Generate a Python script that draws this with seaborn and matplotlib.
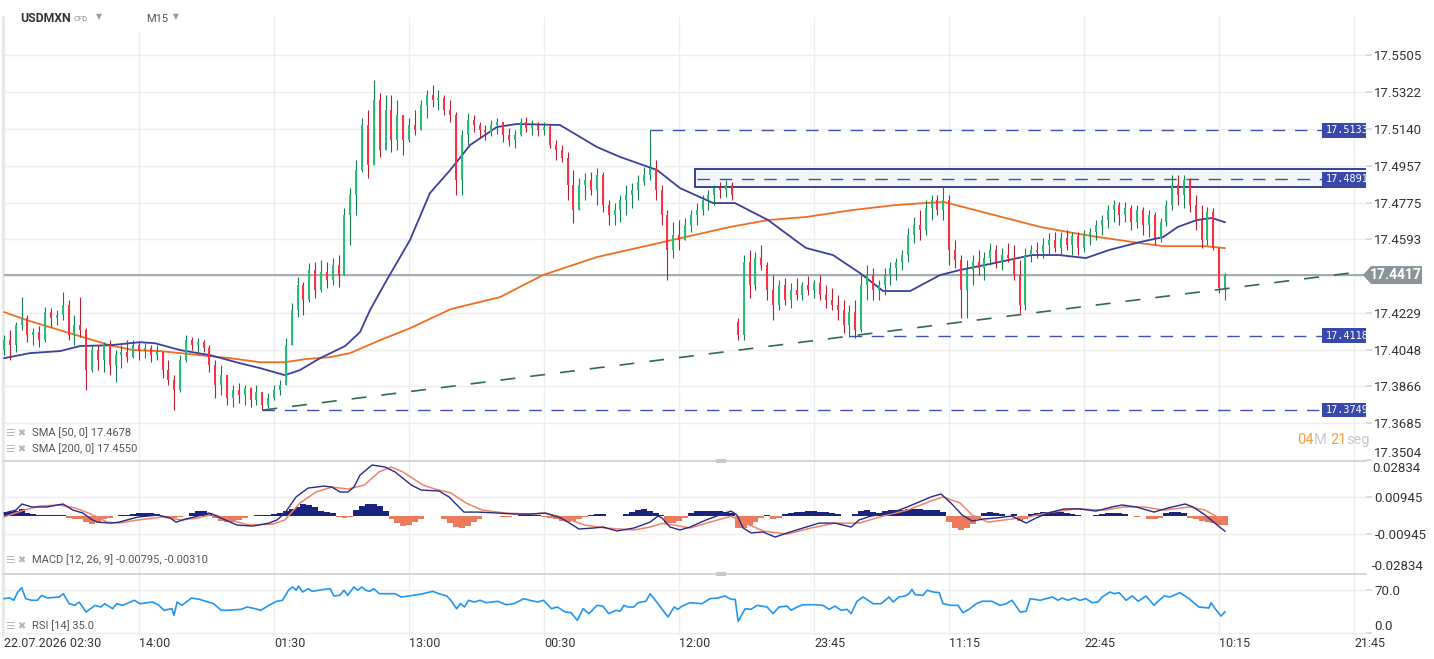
import matplotlib
matplotlib.use("Agg")
import numpy as np
import matplotlib.pyplot as plt
import seaborn as sns
from matplotlib.patches import Rectangle, Polygon
from matplotlib.transforms import IdentityTransform

# --- values (x = bar index, one candle every 2 bars) ---
time_labels = ["22.07.2026 02:30", "14:00", "01:30", "13:00", "00:30", "12:00",
               "23:45", "11:15", "22:45", "10:15", "21:45"]
label_bars = [0, 46, 92, 138, 184, 230, 276, 322, 368, 414, 460]

price_ticks = [17.3504, 17.3685, 17.3866, 17.4048, 17.4229, 17.4411, 17.4593,
               17.4775, 17.4957, 17.5140, 17.5322, 17.5505]

closes = [
    17.4095, 17.4070, 17.4169, 17.4204, 17.4120, 17.4135, 17.4095, 17.4234, 17.4204, 17.4219,
    17.4268, 17.4120, 17.4169, 17.4145, 17.3947, 17.4046, 17.3996, 17.4070, 17.3971, 17.4021,
    17.4036, 17.4011, 17.4070, 17.4046, 17.4056, 17.4021, 17.4036, 17.3947, 17.3898, 17.3848,
    17.3996, 17.4095, 17.4070, 17.4085, 17.4056, 17.3971, 17.3873, 17.3922, 17.3809, 17.3848,
    17.3823, 17.3858, 17.3799, 17.3838, 17.3774, 17.3809, 17.3848, 17.3873, 17.4070, 17.4244,
    17.4367, 17.4293, 17.4442, 17.4343, 17.4432, 17.4392, 17.4466, 17.4417, 17.4713, 17.4812,
    17.4936, 17.5159, 17.4961, 17.5282, 17.5035, 17.5233, 17.5085, 17.5208, 17.5085, 17.5159,
    17.5134, 17.5258, 17.5307, 17.5282, 17.5292, 17.5233, 17.5208, 17.4887, 17.5110, 17.5184,
    17.5159, 17.5134, 17.5124, 17.5159, 17.5174, 17.5110, 17.5085, 17.5110, 17.5174, 17.5144,
    17.5159, 17.5134, 17.5149, 17.5060, 17.5035, 17.4996, 17.4862, 17.4738, 17.4862, 17.4887,
    17.4837, 17.4911, 17.4763, 17.4713, 17.4738, 17.4788, 17.4812, 17.4837, 17.4877, 17.4911,
    17.4946, 17.4837, 17.4713, 17.4541, 17.4614, 17.4590, 17.4664, 17.4713, 17.4738, 17.4788,
    17.4812, 17.4847, 17.4837, 17.4862, 17.4812, 17.4120, 17.4481, 17.4367, 17.4501, 17.4466,
    17.4343, 17.4268, 17.4367, 17.4293, 17.4343, 17.4318, 17.4367, 17.4343, 17.4377, 17.4318,
    17.4293, 17.4268, 17.4244, 17.4169, 17.4234, 17.4145, 17.4367, 17.4417, 17.4343, 17.4367,
    17.4417, 17.4452, 17.4481, 17.4516, 17.4614, 17.4664, 17.4639, 17.4748, 17.4788, 17.4738,
    17.4788, 17.4541, 17.4491, 17.4343, 17.4442, 17.4481, 17.4452, 17.4501, 17.4541, 17.4481,
    17.4516, 17.4501, 17.4417, 17.4268, 17.4516, 17.4541, 17.4531, 17.4565, 17.4590, 17.4551,
    17.4600, 17.4565, 17.4610, 17.4551, 17.4614, 17.4629, 17.4664, 17.4689, 17.4738, 17.4763,
    17.4713, 17.4748, 17.4679, 17.4738, 17.4664, 17.4713, 17.4600, 17.4679, 17.4763, 17.4862,
    17.4812, 17.4887, 17.4763, 17.4689, 17.4590, 17.4728, 17.4551, 17.4353, 17.4417]

highs = [
    17.4120, 17.4145, 17.4184, 17.4308, 17.4219, 17.4154, 17.4164, 17.4258, 17.4253, 17.4244,
    17.4333, 17.4293, 17.4219, 17.4308, 17.4154, 17.4070, 17.4070, 17.4085, 17.4095, 17.4046,
    17.4070, 17.4095, 17.4095, 17.4085, 17.4080, 17.4070, 17.4070, 17.4036, 17.3996, 17.3922,
    17.4021, 17.4120, 17.4110, 17.4105, 17.4095, 17.4070, 17.3996, 17.3971, 17.3898, 17.3873,
    17.3883, 17.3873, 17.3863, 17.3873, 17.3823, 17.3833, 17.3873, 17.3898, 17.4105, 17.4278,
    17.4407, 17.4382, 17.4477, 17.4481, 17.4491, 17.4481, 17.4501, 17.4516, 17.4748, 17.4847,
    17.4986, 17.5194, 17.5233, 17.5381, 17.5317, 17.5307, 17.5307, 17.5282, 17.5208, 17.5194,
    17.5233, 17.5282, 17.5332, 17.5357, 17.5332, 17.5307, 17.5282, 17.5223, 17.5134, 17.5218,
    17.5208, 17.5174, 17.5159, 17.5184, 17.5194, 17.5174, 17.5144, 17.5134, 17.5194, 17.5199,
    17.5184, 17.5174, 17.5174, 17.5164, 17.5085, 17.5060, 17.5025, 17.4936, 17.4897, 17.4922,
    17.4926, 17.4946, 17.4926, 17.4788, 17.4773, 17.4812, 17.4862, 17.4872, 17.4911, 17.4951,
    17.5134, 17.4986, 17.4862, 17.4738, 17.4679, 17.4689, 17.4699, 17.4738, 17.4773, 17.4812,
    17.4837, 17.4862, 17.4877, 17.4887, 17.4877, 17.4204, 17.4516, 17.4541, 17.4531, 17.4565,
    17.4481, 17.4417, 17.4392, 17.4402, 17.4377, 17.4402, 17.4382, 17.4412, 17.4392, 17.4417,
    17.4367, 17.4353, 17.4318, 17.4293, 17.4268, 17.4293, 17.4417, 17.4466, 17.4452, 17.4392,
    17.4452, 17.4481, 17.4501, 17.4541, 17.4649, 17.4704, 17.4738, 17.4788, 17.4812, 17.4812,
    17.4857, 17.4812, 17.4590, 17.4516, 17.4491, 17.4516, 17.4541, 17.4531, 17.4575, 17.4565,
    17.4551, 17.4575, 17.4565, 17.4491, 17.4551, 17.4565, 17.4580, 17.4600, 17.4624, 17.4629,
    17.4629, 17.4639, 17.4629, 17.4629, 17.4639, 17.4649, 17.4689, 17.4713, 17.4763, 17.4788,
    17.4778, 17.4778, 17.4763, 17.4763, 17.4753, 17.4738, 17.4728, 17.4699, 17.4788, 17.4911,
    17.4911, 17.4911, 17.4897, 17.4812, 17.4763, 17.4753, 17.4748, 17.4551, 17.4427]

lows = [
    17.4021, 17.3996, 17.4036, 17.4145, 17.4085, 17.4070, 17.4060, 17.4085, 17.4159, 17.4169,
    17.4194, 17.4095, 17.4070, 17.4110, 17.3848, 17.3937, 17.3947, 17.3937, 17.3922, 17.3888,
    17.3956, 17.3986, 17.4006, 17.3996, 17.4006, 17.3986, 17.3996, 17.3908, 17.3873, 17.3749,
    17.3838, 17.3986, 17.4046, 17.4036, 17.4036, 17.3937, 17.3809, 17.3823, 17.3774, 17.3764,
    17.3784, 17.3774, 17.3764, 17.3774, 17.3749, 17.3759, 17.3799, 17.3823, 17.3873, 17.4085,
    17.4209, 17.4219, 17.4283, 17.4303, 17.4333, 17.4353, 17.4367, 17.4358, 17.4442, 17.4565,
    17.4713, 17.4926, 17.4897, 17.4961, 17.5001, 17.5035, 17.5025, 17.5035, 17.5010, 17.5075,
    17.5110, 17.5159, 17.5194, 17.5248, 17.5233, 17.5208, 17.5174, 17.4812, 17.4812, 17.5060,
    17.5124, 17.5095, 17.5085, 17.5105, 17.5115, 17.5075, 17.5055, 17.5045, 17.5105, 17.5124,
    17.5110, 17.5105, 17.5110, 17.5045, 17.4986, 17.4976, 17.4788, 17.4674, 17.4738, 17.4788,
    17.4812, 17.4763, 17.4728, 17.4664, 17.4664, 17.4679, 17.4713, 17.4748, 17.4788, 17.4862,
    17.4887, 17.4788, 17.4664, 17.4392, 17.4501, 17.4541, 17.4590, 17.4629, 17.4664, 17.4713,
    17.4738, 17.4763, 17.4798, 17.4803, 17.4788, 17.4095, 17.4095, 17.4303, 17.4343, 17.4442,
    17.4293, 17.4194, 17.4244, 17.4268, 17.4253, 17.4293, 17.4293, 17.4318, 17.4303, 17.4293,
    17.4253, 17.4244, 17.4194, 17.4130, 17.4110, 17.4105, 17.4135, 17.4293, 17.4293, 17.4293,
    17.4318, 17.4367, 17.4392, 17.4442, 17.4481, 17.4575, 17.4590, 17.4614, 17.4689, 17.4713,
    17.4689, 17.4466, 17.4452, 17.4204, 17.4204, 17.4367, 17.4417, 17.4392, 17.4466, 17.4452,
    17.4442, 17.4481, 17.4392, 17.4229, 17.4244, 17.4481, 17.4501, 17.4501, 17.4516, 17.4531,
    17.4516, 17.4541, 17.4516, 17.4516, 17.4531, 17.4565, 17.4590, 17.4614, 17.4649, 17.4679,
    17.4664, 17.4679, 17.4639, 17.4649, 17.4614, 17.4605, 17.4565, 17.4580, 17.4659, 17.4738,
    17.4763, 17.4748, 17.4728, 17.4639, 17.4551, 17.4565, 17.4541, 17.4328, 17.4293]

# opens follow the previous close, except where the session opened with a gap
gap_opens = {0: 17.4046, 125: 17.4184}

sma50_t = [0, 8.9, 19.1, 25.9, 36.1, 46.3, 51.4, 60.0, 70.2, 80.4, 87.2, 95.7, 100.8, 107.7,
           116.2, 121.3, 124.7, 129.8, 138.3, 145.1, 152.0, 158.8, 167.9, 174.8, 189.4, 202.0,
           209.9, 222.5, 230.3, 241.6, 249.0, 260.3, 269.5, 273.2, 282.4, 291.6, 299.5, 308.7,
           318.9, 325.7, 337.3, 350.2, 359.4, 368.6, 376.5, 387.0, 394.9, 399.9, 406.4, 411.5, 416]
sma50 = [17.4006, 17.4031, 17.4041, 17.4066, 17.4070, 17.4085, 17.4080, 17.4046, 17.4021, 17.3981,
         17.3957, 17.3922, 17.3947, 17.4006, 17.4066, 17.4135, 17.4244, 17.4377, 17.4590, 17.4822,
         17.4936, 17.5060, 17.5149, 17.5164, 17.5159, 17.5050, 17.5001, 17.4936, 17.4847, 17.4773,
         17.4773, 17.4689, 17.4590, 17.4551, 17.4516, 17.4427, 17.4338, 17.4338, 17.4417, 17.4442,
         17.4476, 17.4516, 17.4516, 17.4501, 17.4541, 17.4580, 17.4605, 17.4655, 17.4689, 17.4699,
         17.4678]

sma200_t = [0, 7.8, 15.7, 26.9, 36.1, 44.0, 53.1, 66.8, 77.0, 87.2, 95.7, 102.5, 111.1, 117.9,
            128.1, 138.3, 152.3, 169.0, 183.6, 202.0, 224.5, 247.4, 260.3, 273.2, 288.9, 303.6,
            313.8, 320.3, 334.6, 353.0, 368.6, 387.0, 394.9, 409.2, 416]
sma200 = [17.4234, 17.4194, 17.4159, 17.4110, 17.4070, 17.4046, 17.4041, 17.4021, 17.4006, 17.3986,
          17.3986, 17.4001, 17.4011, 17.4031, 17.4095, 17.4154, 17.4249, 17.4308, 17.4417, 17.4506,
          17.4580, 17.4655, 17.4689, 17.4704, 17.4738, 17.4763, 17.4773, 17.4778, 17.4724, 17.4655,
          17.4614, 17.4575, 17.4560, 17.4560, 17.4550]

# horizontal levels: value, bar where the line starts
level_values = [17.5133, 17.4891, 17.4118, 17.3749]
level_starts = [220, 236, 288, 88]
zone_low, zone_high, zone_start = 17.4852, 17.4941, 235.4
last_price = 17.4417
trend_t = [88, 458.6]
trend_p = [17.3749, 17.4427]

hist = [
    0.0017, 0.0017, 0.0025, 0.0034, 0.0015, 0.0010, 0.0005, 0.0003, 0.0003, 0.0003,
    0.0003, -0.0010, -0.0015, -0.0018, -0.0030, -0.0041, -0.0030, -0.0015, -0.0010, -0.0003,
    0.0003, 0.0005, 0.0010, 0.0014, 0.0014, 0.0013, 0.0008, -0.0005, -0.0008, -0.0010,
    -0.0008, -0.0003, 0.0015, 0.0025, 0.0025, 0.0015, -0.0010, -0.0025, -0.0034, -0.0030,
    -0.0020, -0.0010, -0.0003, 0.0004, 0.0004, 0.0005, 0.0010, 0.0015, 0.0025, 0.0036,
    0.0046, 0.0059, 0.0056, 0.0046, 0.0025, 0.0020, 0.0015, -0.0008, -0.0013, -0.0005,
    0.0030, 0.0051, 0.0059, 0.0059, 0.0051, 0.0025, -0.0015, -0.0036, -0.0051, -0.0046,
    -0.0030, -0.0015, -0.0003, 0.0000, -0.0003, -0.0015, -0.0036, -0.0056, -0.0065, -0.0051,
    -0.0030, -0.0015, -0.0003, -0.0002, 0.0000, -0.0005, -0.0005, -0.0003, 0.0005, 0.0005,
    0.0005, 0.0003, -0.0005, -0.0010, -0.0015, -0.0025, -0.0030, -0.0025, -0.0015, -0.0008,
    0.0003, 0.0010, 0.0010, -0.0003, -0.0003, -0.0003, 0.0010, 0.0020, 0.0030, 0.0034,
    0.0025, 0.0015, 0.0005, -0.0039, -0.0036, -0.0025, -0.0010, 0.0015, 0.0023, 0.0025,
    0.0025, 0.0025, 0.0025, 0.0020, 0.0015, -0.0065, -0.0061, -0.0046, -0.0030, -0.0010,
    0.0003, -0.0015, -0.0010, 0.0008, 0.0013, 0.0018, 0.0020, 0.0022, 0.0022, 0.0020,
    0.0018, 0.0013, 0.0008, -0.0004, -0.0003, 0.0010, 0.0025, 0.0030, 0.0020, 0.0015,
    0.0025, 0.0029, 0.0029, 0.0030, 0.0033, 0.0036, 0.0033, 0.0030, 0.0029, 0.0028,
    0.0020, -0.0030, -0.0061, -0.0073, -0.0061, -0.0041, -0.0015, 0.0013, 0.0017, 0.0015,
    0.0008, -0.0002, 0.0009, -0.0025, -0.0015, 0.0008, 0.0013, 0.0018, 0.0020, 0.0020,
    0.0018, 0.0013, 0.0008, 0.0002, 0.0000, -0.0002, 0.0003, 0.0010, 0.0014, 0.0014,
    0.0014, 0.0010, -0.0003, -0.0005, -0.0003, -0.0015, -0.0017, -0.0010, 0.0015, 0.0020,
    0.0020, 0.0015, -0.0010, -0.0015, -0.0025, -0.0030, -0.0036, -0.0046, -0.0049]

macd_t = [0, 4.1, 6.1, 9.5, 14.7, 20.1, 23.5, 26.9, 29.6, 31.7, 36.5, 39.2, 45.7, 52.5, 56.6,
          58.6, 62.0, 66.1, 69.8, 73.9, 79.4, 84.8, 90.3, 93.0, 95.7, 99.5, 103.6, 109.0, 111.7,
          114.5, 117.2, 119.2, 121.3, 125.4, 129.8, 133.2, 138.7, 142.1, 148.2, 151.6, 156.7,
          161.5, 168.3, 173.8, 179.2, 184.3, 189.8, 195.9, 200.7, 204.1, 208.8, 214.6, 220.1,
          222.8, 224.2, 226.9, 230.3, 233.7, 239.2, 244.6, 247.7, 249.7, 251.8, 254.5, 258.6,
          262.7, 266.8, 272.2, 277.7, 283.1, 288.6, 291.3, 295.4, 302.2, 307.7, 311.7, 315.8,
          319.2, 322.6, 326.4, 329.8, 333.9, 338.0, 343.4, 348.2, 351.6, 355.7, 361.1, 366.6,
          372.0, 377.5, 380.9, 385.7, 391.8, 396.6, 402.4, 405.1, 409.2, 413.3, 416.0]
macd_val = [0.0013, 0.0028, 0.0059, 0.0044, 0.0044, 0.0059, 0.0028, 0.0013, -0.0017, -0.0033,
            -0.0038, -0.0033, -0.0007, 0.0003, -0.0012, -0.0033, -0.0017, -0.0002, 0.0013, -0.0012,
            -0.0048, -0.0053, -0.0038, -0.0022, 0.0013, 0.0095, 0.0140, 0.0150, 0.0145, 0.0120,
            0.0120, 0.0145, 0.0206, 0.0257, 0.0247, 0.0222, 0.0156, 0.0130, 0.0125, 0.0095,
            0.0018, 0.0018, 0.0013, 0.0008, 0.0008, 0.0013, -0.0012, -0.0068, -0.0063, -0.0058,
            -0.0078, -0.0063, -0.0033, -0.0002, -0.0012, -0.0058, -0.0073, -0.0058, -0.0022, 0.0008,
            0.0023, 0.0003, -0.0063, -0.0088, -0.0083, -0.0109, -0.0088, -0.0063, -0.0038, -0.0038,
            -0.0058, -0.0022, -0.0002, 0.0013, 0.0044, 0.0069, 0.0095, 0.0110, 0.0064, 0.0003,
            -0.0027, -0.0017, -0.0012, -0.0002, -0.0038, -0.0012, 0.0013, 0.0034, 0.0034, 0.0023,
            0.0044, 0.0054, 0.0044, 0.0018, 0.0039, 0.0059, 0.0044, 0.0003, -0.0048, -0.00795]

signal_t = [0, 6.8, 12.3, 18.7, 24.2, 29.6, 35.1, 39.2, 45.7, 53.8, 60.6, 66.1, 71.2, 76.7, 83.5,
            91.6, 95.7, 100.8, 106.3, 111.7, 117.2, 122.7, 127.8, 131.9, 135.9, 142.8, 146.8,
            152.3, 157.4, 162.9, 171.0, 179.2, 184.3, 191.1, 197.9, 204.8, 214.6, 220.1, 224.2,
            228.3, 233.7, 240.5, 247.7, 251.8, 258.6, 266.8, 274.9, 283.1, 291.3, 299.5, 307.7,
            315.8, 319.9, 325.7, 329.8, 335.2, 343.4, 348.9, 357.1, 365.2, 374.8, 381.6, 388.4,
            395.2, 403.7, 409.2, 414.6, 416.0]
signal_val = [-0.0007, 0.0028, 0.0049, 0.0054, 0.0039, 0.0008, -0.0033, -0.0038, -0.0022, -0.0007,
              -0.0022, -0.0012, 0.0008, -0.0022, -0.0048, -0.0043, -0.0022, 0.0064, 0.0120, 0.0145,
              0.0135, 0.0155, 0.0222, 0.0247, 0.0222, 0.0155, 0.0135, 0.0115, 0.0064, 0.0028,
              0.0013, 0.0008, 0.0013, -0.0012, -0.0048, -0.0063, -0.0073, -0.0058, -0.0040, -0.0048,
              -0.0063, -0.0033, -0.0003, -0.0033, -0.0078, -0.0094, -0.0063, -0.0038, -0.0038, -0.0002,
              0.0028, 0.0074, 0.0095, 0.0064, 0.0003, -0.0033, -0.0017, -0.0007, 0.0018, 0.0034,
              0.0028, 0.0044, 0.0044, 0.0028, 0.0044, 0.0028, -0.0018, -0.0031]

rsi_t = [0.0, 2.0, 3.3, 4.7, 6.0, 7.4, 9.4, 11.4, 12.8, 14.8, 18.8, 20.2, 22.2, 24.2, 25.6, 28.0,
         31.0, 33.0, 34.3, 37.0, 38.4, 40.4, 44.4, 46.4, 50.5, 52.5, 54.5, 57.2, 57.9, 59.0, 60.6,
         63.9, 66.6, 68.7, 71.4, 74.0, 76.1, 80.8, 82.8, 85.5, 87.5, 90.2, 92.9, 94.9, 96.9, 98.3,
         99.6, 100.3, 101.7, 103.7, 105.0, 109.1, 111.1, 112.4, 114.4, 115.8, 117.1, 119.2, 120.5,
         121.9, 123.2, 124.6, 125.9, 127.9, 133.3, 135.3, 138.0, 140.7, 142.7, 146.1, 148.1, 150.8,
         152.2, 154.2, 155.5, 156.9, 158.2, 160.2, 162.2, 164.3, 168.3, 171.0, 173.7, 177.1, 179.1,
         181.8, 183.8, 186.5, 188.5, 191.2, 193.2, 195.3, 197.3, 199.3, 202.0, 204.0, 206.0,
         208.5, 209.9, 211.2, 212.6, 214.6, 216.0, 218.7, 220.1, 222.8, 226.2, 228.3, 229.6, 231.0,
         233.7, 237.8, 240.5, 243.3, 245.6, 247.7, 249.1, 250.1, 252.5, 254.5, 256.5, 260.0, 262.0,
         264.0, 266.8, 268.1, 270.2, 272.2, 276.3, 279.0, 281.1, 283.1, 285.2, 287.2, 288.6, 290.6,
         292.7, 296.1, 298.8, 301.5, 302.9, 304.9, 307.0, 308.3, 309.3, 310.4, 313.1, 314.5, 316.5,
         318.6, 319.9, 322.6, 325.0, 326.7, 329.1, 331.2, 333.2, 336.6, 339.3, 341.4, 343.4, 346.2,
         348.2, 349.6, 353.0, 357.1, 359.1, 360.5, 362.5, 364.5, 366.6, 368.6, 370.7, 372.7, 374.1,
         376.8, 378.2, 379.9, 382.3, 384.3, 386.4, 389.1, 391.8, 393.2, 395.2, 397.2, 400.6, 403.7,
         407.1, 410.5, 411.2, 412.6, 414.6, 416.0]
rsi_val = [56.3, 57.4, 53.6, 67.2, 74.3, 56.3, 53.6, 53.6, 61.7, 57.4, 59.0, 64.4, 48.0, 45.3, 50.8,
           34.4, 45.3, 42.6, 48.0, 39.9, 48.0, 45.3, 53.6, 48.0, 50.8, 46.4, 37.2, 39.9, 29.0, 50.8,
           45.3, 57.4, 55.2, 52.0, 48.0, 37.2, 37.2, 38.8, 42.6, 39.9, 37.2, 45.3, 52.0, 53.6, 70.0,
           75.4, 70.0, 77.0, 67.2, 72.6, 68.3, 71.5, 72.6, 60.7, 61.7, 70.0, 61.7, 75.4, 70.0, 75.4,
           70.0, 68.3, 72.6, 64.4, 64.4, 59.0, 60.7, 62.8, 64.4, 68.3, 64.4, 60.7, 53.6, 39.9, 48.0,
           42.6, 53.6, 50.8, 53.6, 49.7, 52.0, 46.4, 48.0, 56.3, 53.6, 50.8, 53.6, 39.9, 42.6, 34.4,
           33.3, 20.8, 39.9, 31.7, 45.3, 44.1, 31.7,
           37.2, 35.6, 45.3, 42.6, 42.6, 49.7, 52.0, 64.4, 48.0, 26.2, 42.6, 38.8, 44.1, 49.7, 48.0,
           56.3, 57.4, 60.7, 55.2, 55.2, 19.1, 39.9, 38.8, 45.3, 42.6, 31.7, 42.6, 44.1, 37.2, 42.6,
           46.4, 46.4, 45.3, 38.8, 44.1, 37.2, 38.8, 31.7, 52.0, 59.0, 48.0, 48.0, 59.0, 50.8, 59.0,
           60.7, 64.4, 71.5, 62.8, 61.7, 70.0, 67.2, 66.1, 48.0, 45.3, 45.3, 33.3, 39.9, 48.0, 52.0,
           52.0, 45.3, 48.0, 53.6, 34.4, 35.6, 56.3, 53.6, 59.0, 53.6, 57.4, 53.6, 57.4, 53.6, 56.3,
           49.7, 50.8, 59.0, 67.2, 64.4, 66.1, 53.6, 60.7, 52.0, 60.7, 45.3, 52.0, 60.7, 59.0, 66.1,
           56.3, 42.6, 41.0, 49.7, 39.9, 27.8, 35.0]

# --- figure ---
W, H = 1434, 659
sns.set_theme(style="white")
plt.rcParams['font.family'] = ['Roboto', 'DejaVu Sans']

fig = plt.figure(figsize=(W / 100, H / 100), dpi=100)
fig.patch.set_facecolor("white")


def fy(py):
    return 1 - py / H


ax = fig.add_axes([3 / W, fy(460.5), 1363 / W, (460.5 - 17) / H])
ax_m = fig.add_axes([3 / W, fy(573.5), 1363 / W, 113 / H])
ax_r = fig.add_axes([3 / W, fy(636), 1363 / W, 62.5 / H])

grid_c = "#eeeeee"
txt_c = "#333333"
for a in (ax, ax_m, ax_r):
    a.set_xlim(-0.34, 464.0)
    a.set_xticks(label_bars)
    a.grid(True, color=grid_c, lw=1)
    a.set_axisbelow(True)
    for s in a.spines.values():
        s.set_visible(False)
    a.spines["left"].set_visible(True)
    a.spines["left"].set_color("#e3e3e3")
    a.yaxis.tick_right()
    a.tick_params(axis="y", length=4, color="#d8d8d8", pad=2, labelsize=9.5, labelcolor=txt_c)
    a.tick_params(axis="x", length=0, labelbottom=False)
for a in (ax_m, ax_r):
    a.spines["top"].set_visible(True)
    a.spines["top"].set_color("#cfcfcf")
    a.spines["top"].set_linewidth(1.2)

# ---- price panel ----
ax.set_ylim(17.3500, 17.5693)
ax.set_yticks(price_ticks)
ax.set_yticklabels(["" if v == 17.4411 else f"{v:.4f}" for v in price_ticks])
ax.get_yticklabels()[0].set_verticalalignment("bottom")

bars = np.arange(0, 2 * len(closes), 2)
opens = [gap_opens.get(i, closes[i - 1]) for i in range(len(closes))]
up = [c >= o for o, c in zip(opens, closes)]
hi = [max(h, o, c) for h, o, c in zip(highs, opens, closes)]
lo = [min(l, o, c) for l, o, c in zip(lows, opens, closes)]
wick_c = ["#16804d" if u else "#b3202f" for u in up]
body_c = ["#22bf74" if u else "#ff2f42" for u in up]

# zone around 17.4891
ax.add_patch(Rectangle((zone_start, zone_low), 470 - zone_start, zone_high - zone_low,
                       facecolor="#f4f6fd", edgecolor="#1a237e", lw=1.2, zorder=1))

ax.axhline(last_price, color="#8c9399", lw=1.1, zorder=2)
for v, s in zip(level_values, level_starts):
    ax.plot([s, 449], [v, v], color="#3f51b5", lw=1, dashes=(9, 7), zorder=2)

sns.lineplot(x=sma200_t, y=sma200, ax=ax, color="#f26d21", lw=1.3, estimator=None, sort=False, zorder=3)
sns.lineplot(x=sma50_t, y=sma50, ax=ax, color="#3b3f9e", lw=1.3, estimator=None, sort=False, zorder=3)

ax.vlines(bars, lo, hi, colors=wick_c, lw=0.8, zorder=4)
ax.vlines(bars, np.minimum(opens, closes), np.maximum(opens, closes), colors=body_c, lw=1.4, zorder=4)

ax.plot(trend_t, trend_p, color="#2e6b4f", lw=1.2, dashes=(9, 9), zorder=5)

# level price tags on the right edge
tag_h = 0.0072
for v in level_values:
    ax.add_patch(Rectangle((449, v - tag_h / 2), 20, tag_h, facecolor="#3949ab",
                           edgecolor="none", zorder=6, clip_on=True))
    ax.text(450.3, v, f"{v:.4f}", color="white", fontsize=7.3, family="DejaVu Sans Mono",
            va="center", ha="left", zorder=7, clip_on=True)

# current price marker
yd = ax.transData.transform((0, last_price))[1]
pts = [(1363, yd), (1371, yd + 9), (1422, yd + 9), (1422, yd - 9), (1371, yd - 9)]
fig.add_artist(Polygon(pts, closed=True, transform=IdentityTransform(),
                       facecolor="#8a9499", edgecolor="none", zorder=5))
fig.text(1396 / W, yd / H, f"{last_price:.4f}", color="white", fontsize=10,
         fontweight="bold", ha="center", va="center", zorder=6)

# legends
icon_c = "#b5b5b5"
leg_c = "#555555"
for py, label in [(433, "SMA [50, 0] 17.4678"), (449, "SMA [200, 0] 17.4550"),
                  (560, "MACD [12, 26, 9] -0.00795, -0.00310"), (626, "RSI [14] 35.0")]:
    fig.text(5 / W, fy(py), "\u2630", color=icon_c, fontsize=7.5, va="center", family="DejaVu Sans")
    fig.text(17 / W, fy(py), "\u2716", color=icon_c, fontsize=7, va="center", family="DejaVu Sans")
    fig.text(32 / W, fy(py), label, color=leg_c, fontsize=8, va="center")

# countdown text
renderer = fig.canvas.get_renderer()
x_px = 1297
for s, c, gap in [("04", "#f5a03c", 0), ("M", "#c9c9c9", 4), ("21", "#f5a03c", 0), ("seg", "#c9c9c9", 0)]:
    t = fig.text(x_px / W, fy(440), s, color=c, fontsize=10.5, va="center", ha="left")
    x_px = t.get_window_extent(renderer).x1 + gap

# header
fig.add_artist(Rectangle((8 / W, fy(33)), 190 / W, 17 / H, transform=fig.transFigure,
                         facecolor="white", edgecolor="none", zorder=1))
fig.text(20 / W, fy(18), "USDMXN", color=txt_c, fontsize=8.8, fontweight="bold", va="center", zorder=2)
fig.text(74 / W, fy(19), "CFD", color="#8a8a8a", fontsize=5.5, va="center", zorder=2)
fig.text(96 / W, fy(17), "\u25bc", color="#9a9a9a", fontsize=5.5, va="center", family="DejaVu Sans", zorder=2)
fig.text(146 / W, fy(19), "M15", color="#555555", fontsize=8, va="center", zorder=2)
fig.text(173 / W, fy(17), "\u25bc", color="#9a9a9a", fontsize=5.5, va="center", family="DejaVu Sans", zorder=2)

# ---- MACD panel ----
ax_m.set_ylim(-0.0294, 0.0280)
ax_m.set_yticks([-0.00945, 0.00945])
ax_m.set_yticklabels(["-0.00945", "0.00945"])
ax_m.bar(bars, hist, width=2.0, color=["#1a237e" if h >= 0 else "#ec7a5c" for h in hist],
         linewidth=0, zorder=2)
sns.lineplot(x=signal_t, y=signal_val, ax=ax_m, color="#f0826a", lw=1.1, estimator=None, sort=False, zorder=3)
sns.lineplot(x=macd_t, y=macd_val, ax=ax_m, color="#262a86", lw=1.0, estimator=None, sort=False, zorder=4)
fig.text(1372 / W, fy(468), "0.02834", color=txt_c, fontsize=9.5, va="center")
fig.text(1372 / W, fy(566), "-0.02834", color=txt_c, fontsize=9.5, va="center")

# ---- RSI panel ----
ax_r.set_ylim(-4.9, 97.5)
ax_r.set_yticks([0, 70])
ax_r.set_yticklabels(["0.0", "70.0"])
ax_r.get_yticklabels()[0].set_verticalalignment("bottom")
sns.lineplot(x=rsi_t, y=rsi_val, ax=ax_r, color="#2196f3", lw=1.2, estimator=None, sort=False, zorder=3)
ax_r.tick_params(axis="x", labelbottom=True, pad=1, labelsize=9, labelcolor=txt_c)
ax_r.set_xticklabels(time_labels, ha="left")

for a in (ax, ax_m, ax_r):
    a.set_xlabel("")
    a.set_ylabel("")

# separator handles
for py in (460.5, 573.5):
    fig.add_artist(Rectangle((716 / W, fy(py + 2)), 10 / W, 4 / H, transform=fig.transFigure,
                             facecolor="#c8c8c8", edgecolor="none", zorder=3))

fig.savefig("out.png", dpi=100)
